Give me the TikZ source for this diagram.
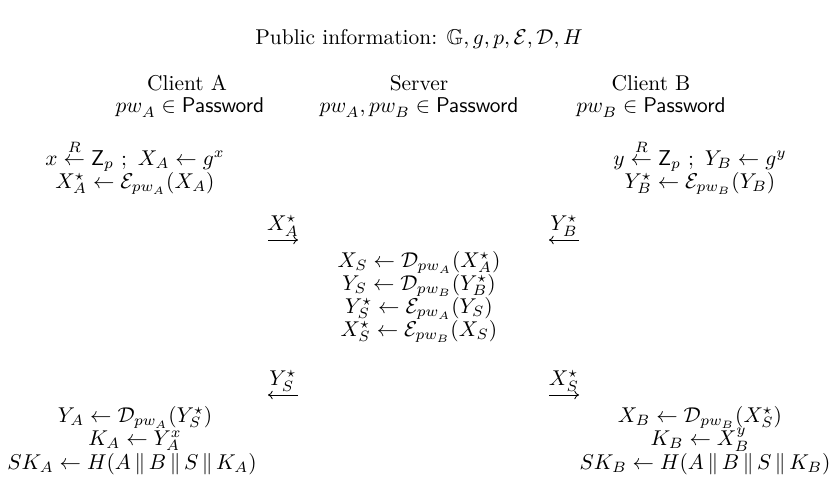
\documentclass[tikz,border=0pt]{standalone}
\usepackage{amsmath,amssymb}
\usetikzlibrary{arrows.meta}
\newcommand{\pwT}[1]{pw_{\lower1.2pt\hbox{$\scriptstyle #1$}}}
\newcommand{\pwS}[1]{pw_{\lower0.4pt\hbox{$\scriptscriptstyle #1$}}}
\newcommand{\cat}{\,\|\,}
\begin{document}
\begin{tikzpicture}[x=0.467pt,y=-0.467pt,
  txt/.style={inner sep=0pt, anchor=base},
  msg/.style={-{Computer Modern Rightarrow[length=2.2pt,width=4pt]}, line width=0.4pt},
  lbl/.style={inner sep=1.5pt, anchor=south}]
\useasboundingbox (0,0) rectangle (838,487);
\node[txt] (title) at (419,44) {Public information: $\mathbb{G}, g, p, \mathcal{E}, \mathcal{D}, H$};
% headers
\node[txt] (ca) at (187,90) {Client A};
\node[txt] (cap) at (190,112) {$\pwT{A} \in \mathsf{Password}$};
\node[txt] (sv) at (419,90) {Server};
\node[txt] (svp) at (419,112) {$\pwT{A}, \pwT{B} \in \mathsf{Password}$};
\node[txt] (cb) at (651,90) {Client B};
\node[txt] (cbp) at (651,112) {$\pwT{B} \in \mathsf{Password}$};
% client A first
\node[txt] (a1) at (135,165) {$x \stackrel{R}{\leftarrow} \mathsf{Z}_p\ ;\ X_A \leftarrow g^x$};
\node[txt] (a2) at (135,188) {$X_A^\star \leftarrow \mathcal{E}_{\pwS{A}}(X_A)$};
% client B first
\node[txt] (b1) at (700,165) {$y \stackrel{R}{\leftarrow} \mathsf{Z}_p\ ;\ Y_B \leftarrow g^y$};
\node[txt] (b2) at (700,188) {$Y_B^\star \leftarrow \mathcal{E}_{\pwS{B}}(Y_B)$};
% messages 1
\coordinate (m1s) at (268,240); \coordinate (m1e) at (298,240);
\draw[msg] (m1s) -- node[lbl] (m1l) {$X_A^\star$} (m1e);
\coordinate (m2s) at (579,240); \coordinate (m2e) at (549,240);
\draw[msg] (m2s) -- node[lbl] (m2l) {$Y_B^\star$} (m2e);
% server
\node[txt] (s1) at (419,267) {$X_S \leftarrow \mathcal{D}_{\pwS{A}}(X_A^\star)$};
\node[txt] (s2) at (419,290) {$Y_S \leftarrow \mathcal{D}_{\pwS{B}}(Y_B^\star)$};
\node[txt] (s3) at (419,313) {$Y_S^\star \leftarrow \mathcal{E}_{\pwS{A}}(Y_S)$};
\node[txt] (s4) at (419,336) {$X_S^\star \leftarrow \mathcal{E}_{\pwS{B}}(X_S)$};
% messages 2
\coordinate (m3s) at (298,395); \coordinate (m3e) at (268,395);
\draw[msg] (m3s) -- node[lbl] (m3l) {$Y_S^\star$} (m3e);
\coordinate (m4s) at (549,395); \coordinate (m4e) at (579,395);
\draw[msg] (m4s) -- node[lbl] (m4l) {$X_S^\star$} (m4e);
% client A final
\node[txt] (a3) at (135,422) {$Y_A \leftarrow \mathcal{D}_{\pwS{A}}(Y_S^\star)$};
\node[txt] (a4) at (135,445) {$K_A \leftarrow Y_A^x$};
\node[txt] (a5) at (132,469) {$SK_A \leftarrow H(A \cat B \cat S \cat K_A)$};
% client B final
\node[txt] (b3) at (700,422) {$X_B \leftarrow \mathcal{D}_{\pwS{B}}(X_S^\star)$};
\node[txt] (b4) at (700,445) {$K_B \leftarrow X_B^y$};
\node[txt] (b5) at (705,469) {$SK_B \leftarrow H(A \cat B \cat S \cat K_B)$};
\end{tikzpicture}
\end{document}
